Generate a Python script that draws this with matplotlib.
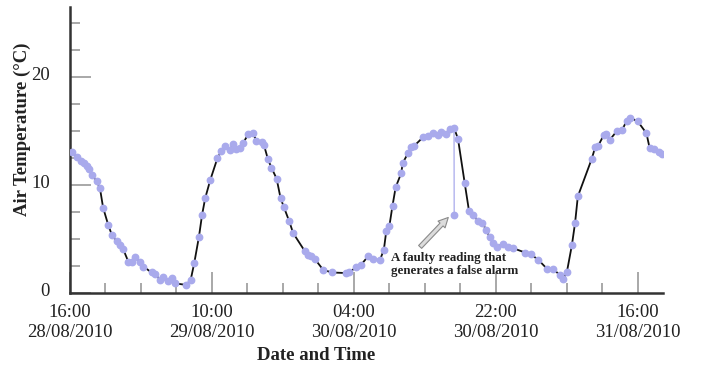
import matplotlib
matplotlib.use("Agg")
from matplotlib import pyplot as plt
from matplotlib import transforms
import numpy as np

plt.rcParams['font.family'] = ['Liberation Serif', 'DejaVu Serif']

# hours after 16:00 28/08/2010
hours = [0.2, 0.9, 1.35, 1.75, 2.2, 2.45, 2.8, 3.4, 3.8, 4.2, 4.85, 5.3, 5.9, 6.3, 6.75,
         7.4, 7.8, 8.2, 8.9, 9.3, 10.35, 10.8, 11.4, 11.75, 12.45, 12.9, 13.3, 14.7, 15.3,
         15.75, 16.35, 16.75, 17.15, 17.8, 18.7, 19.2, 19.65, 20.3, 20.7, 21.1, 21.5, 21.95,
         22.6, 23.2, 23.65, 24.3, 24.6, 25.1, 25.55, 26.2, 26.7, 27.1, 27.8, 28.3, 29.8,
         30.2, 30.6, 31.05, 32.1, 33.2, 35.0, 35.4, 36.3, 36.9, 37.8, 38.4, 39.3, 39.8,
         40.1, 40.5, 40.9, 41.3, 42.0, 42.2, 42.9, 43.3, 43.6, 44.8, 45.4, 46.05, 46.7,
         47.1, 47.7, 48.25, 48.7, 49.2, 50.05, 50.6, 51.1, 51.75, 52.25, 52.8, 53.2, 53.65,
         54.2, 54.9, 55.5, 56.2, 57.7, 58.4, 59.35, 60.55, 61.25, 62.1, 62.55, 63.0, 63.65,
         64.05, 64.4, 66.15, 66.6, 66.95, 67.7, 68.0, 68.45, 69.35, 70.0, 70.6, 71.0, 72.0,
         73.1, 73.5, 74.1, 74.7, 75.1]
temps = [13.05, 12.6, 12.2, 12.0, 11.75, 11.5, 10.9, 10.35, 9.7, 7.9, 6.3, 5.4, 4.8, 4.45, 4.05,
         2.9, 2.9, 3.3, 2.9, 2.45, 1.9, 1.75, 1.25, 1.5, 1.15, 1.35, 0.9, 0.75, 1.2,
         2.75, 5.2, 7.25, 8.8, 10.5, 12.5, 13.15, 13.6, 13.25, 13.85, 13.3, 13.45, 13.9,
         14.7, 14.8, 14.1, 14.0, 13.7, 12.4, 11.6, 10.6, 8.8, 8.0, 6.65, 5.55, 3.85,
         3.55, 3.4, 3.15, 2.15, 1.9, 1.85, 1.9, 2.4, 2.6, 3.4, 3.15, 3.05, 4.0,
         5.7, 6.2, 8.1, 9.8, 11.1, 12.05, 13.0, 13.55, 13.6, 14.45, 14.55, 14.85, 14.65,
         14.95, 14.75, 15.15, 15.3, 14.3, 10.2, 7.6, 7.2, 6.7, 6.5, 5.85, 5.2, 4.6,
         4.3, 4.55, 4.3, 4.15, 3.75, 3.6, 3.1, 2.2, 2.2, 1.7, 1.3, 1.9, 4.45,
         6.5, 8.95, 12.4, 13.5, 13.6, 14.65, 14.7, 14.2, 15.0, 15.1, 15.95, 16.25, 15.9,
         14.8, 13.45, 13.3, 13.05, 12.85]

# the faulty reading and the reading it follows
fault_hour = 48.72
fault_temp = 7.25
peak_idx = 84

tick_hours = [0, 18, 36, 54, 72]
tick_labels = ["16:00\n28/08/2010", "10:00\n29/08/2010", "04:00\n30/08/2010",
               "22:00\n30/08/2010", "16:00\n31/08/2010"]

lav = "#a9aaec"

fig = plt.figure(figsize=(7.01, 3.67), dpi=100)
ax = fig.add_axes([70/701, 1-293/367, 593/701, 286/367])

ax.plot(hours, temps, color="#111111", lw=1.3, zorder=2)
ax.plot([hours[peak_idx], fault_hour], [temps[peak_idx], fault_temp], color=lav, lw=0.9, zorder=2)
ax.plot(hours, temps, ls="none", marker="o", ms=4.6, color=lav, mec=lav, zorder=3)
ax.plot([fault_hour], [fault_temp], ls="none", marker="o", ms=4.6, color=lav, zorder=3)

ax.set_xlim(0, 75.2)
ax.set_ylim(0, 26.5)

ax.set_xticks(tick_hours)
ax.set_xticklabels(tick_labels, fontsize=13.5, color="#222222", linespacing=1.2)
ax.set_xticks(np.arange(4.5, 75, 4.5), minor=True)
ax.set_yticks([0, 10, 20])
ax.set_yticklabels(["0", "10", "20"], fontsize=13.5, color="#222222")
ax.set_yticks([2.5, 5, 7.5, 12.5, 15, 17.5, 22.5, 25], minor=True)

ax.tick_params(which="major", direction="in", length=15, width=1.2, color="#9a9a9a", pad=8)
ax.tick_params(which="minor", direction="in", length=7.5, width=1.2, color="#9a9a9a")
ax.tick_params(axis="y", which="major", pad=14.5)

# y labels sit a little above their ticks in the original
up = transforms.ScaledTranslation(0, 3.5/100, fig.dpi_scale_trans)
for lbl in ax.get_yticklabels():
    lbl.set_transform(lbl.get_transform() + up)

for s in ["top", "right"]:
    ax.spines[s].set_visible(False)
for s in ["left", "bottom"]:
    ax.spines[s].set_linewidth(1.8)
    ax.spines[s].set_color("#333333")

ax.set_ylabel("Air Temperature (°C)", fontsize=13.5, fontweight="bold", color="#222222", va="center")
ax.yaxis.set_label_coords(-0.080, 0.573)
ax.set_xlabel("Date and Time", fontsize=13.5, fontweight="bold", color="#222222", va="center")
ax.xaxis.set_label_coords(0.415, -0.218)

ax.annotate("", xy=(47.97, 7.0), xytext=(44.4, 4.27),
            arrowprops=dict(arrowstyle="simple,head_width=0.7,head_length=0.7,tail_width=0.3",
                            fc="#dcdcdc", ec="#8a8a8a", lw=0.8, shrinkA=0, shrinkB=0))
ax.text(40.65, 2.66, "A faulty reading that\ngenerates a false alarm", fontsize=9.4,
        fontweight="bold", color="#222222", linespacing=1.1, va="center", ha="left")

fig.savefig("out.png", dpi=100)
